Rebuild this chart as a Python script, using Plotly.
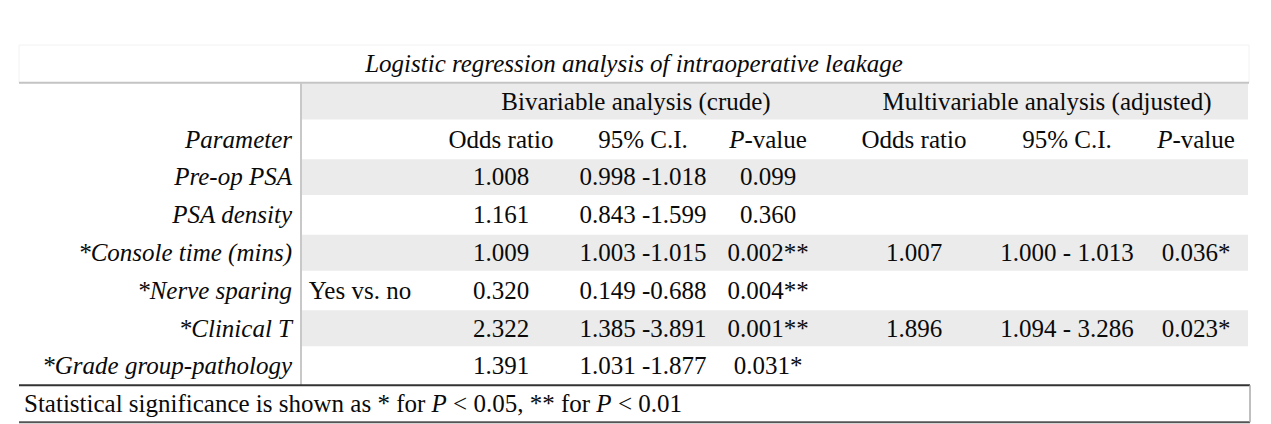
import plotly.graph_objects as go

# ---------------- data ----------------
title_text = "Logistic regression analysis of intraoperative leakage"
group_headers = ["Bivariable analysis (crude)", "Multivariable analysis (adjusted)"]
column_headers = ["<i>Parameter</i>", "", "Odds ratio", "95% C.I.", "<i>P</i>-value",
                  "Odds ratio", "95% C.I.", "<i>P</i>-value"]
params = ["Pre-op PSA", "PSA density", "*Console time (mins)", "*Nerve sparing",
          "*Clinical T", "*Grade group-pathology"]
levels = ["", "", "", "Yes vs. no", "", ""]
biv_or = ["1.008", "1.161", "1.009", "0.320", "2.322", "1.391"]
biv_ci = ["0.998 -1.018", "0.843 -1.599", "1.003 -1.015", "0.149 -0.688",
          "1.385 -3.891", "1.031 -1.877"]
biv_p = ["0.099", "0.360", "0.002**", "0.004**", "0.001**", "0.031*"]
mv_or = ["", "", "1.007", "", "1.896", ""]
mv_ci = ["", "", "1.000 - 1.013", "", "1.094 - 3.286", ""]
mv_p = ["", "", "0.036*", "", "0.023*", ""]
footnote = "Statistical significance is shown as * for <i>P</i> < 0.05, ** for <i>P</i> < 0.01"

# ---------------- layout constants ----------------
FONT = dict(family="'Liberation Serif', 'Times New Roman', Tinos, 'DejaVu Serif', serif",
            size=25, color="#0a0a0a")
X_LEFT, X_RIGHT, X_DIV = 19, 1249, 301
COL_X = [292, 360, 501, 643, 768, 914, 1067, 1196]   # column anchor positions (px)
GROUP_X = [636, 1047]
ROW_TITLE, ROW_GROUP, ROW_HEAD, ROW_DATA0 = 0, 1, 2, 3
n = len(params)
ROW_FOOT = ROW_DATA0 + n
GRAY = "#ebebeb"
DY = 0.55   # vertical anchor of text inside a row

fig = go.Figure()

def add_text(xs, ys, texts, pos="middle center", italic=False):
    t = [f"<i>{s}</i>" if (italic and s) else s for s in texts]
    fig.add_trace(go.Scatter(x=xs, y=ys, text=t, mode="text", textposition=pos,
                             textfont=FONT, hoverinfo="skip", showlegend=False,
                             cliponaxis=False))

add_text([(X_LEFT + X_RIGHT) / 2], [ROW_TITLE + DY], [title_text], italic=True)
add_text(GROUP_X, [ROW_GROUP + DY] * 2, group_headers)
add_text([COL_X[0]], [ROW_HEAD + DY], [column_headers[0]], pos="middle left")
add_text(COL_X[2:], [ROW_HEAD + DY] * 6, column_headers[2:])
rows_y = [ROW_DATA0 + i + DY for i in range(n)]
add_text([COL_X[0]] * n, rows_y, params, pos="middle left", italic=True)
for ci, col in zip(range(1, 8), [levels, biv_or, biv_ci, biv_p, mv_or, mv_ci, mv_p]):
    add_text([COL_X[ci]] * n, rows_y, col)
add_text([24], [ROW_FOOT + DY], [footnote], pos="middle right")

# ---------------- shapes ----------------
shapes = []
shapes.append(dict(type="rect", x0=X_LEFT, x1=X_RIGHT, y0=ROW_TITLE, y1=ROW_GROUP,
                   line=dict(color="#f2f2f2", width=1), fillcolor="rgba(0,0,0,0)", layer="below"))
for r in [ROW_GROUP] + [ROW_DATA0 + i for i in range(0, n, 2)]:
    shapes.append(dict(type="rect", x0=X_DIV + 1, x1=X_RIGHT - 1, y0=r + 0.02, y1=r + 0.97,
                       fillcolor=GRAY, line=dict(width=0), layer="below"))
shapes.append(dict(type="line", x0=X_LEFT, x1=X_RIGHT, y0=ROW_GROUP, y1=ROW_GROUP,
                   line=dict(color="#c4c4c4", width=2)))
shapes.append(dict(type="line", x0=X_DIV, x1=X_DIV, y0=ROW_GROUP, y1=ROW_FOOT,
                   line=dict(color="#c8c8c8", width=2)))
shapes.append(dict(type="line", x0=X_LEFT, x1=X_RIGHT + 1, y0=ROW_FOOT, y1=ROW_FOOT,
                   line=dict(color="#333333", width=2)))
shapes.append(dict(type="line", x0=X_LEFT, x1=X_RIGHT + 1, y0=ROW_FOOT + 0.98, y1=ROW_FOOT + 0.98,
                   line=dict(color="#555555", width=2)))
shapes.append(dict(type="line", x0=X_RIGHT + 1, x1=X_RIGHT + 1, y0=ROW_FOOT, y1=ROW_FOOT + 0.98,
                   line=dict(color="#aaaaaa", width=1.5)))

OFF = 8
W, H = 1271, 424
ROW_PX, TOP_PX = 37.8, 45
y_top = (OFF - TOP_PX) / ROW_PX
y_bot = (H - TOP_PX) / ROW_PX

fig.update_layout(
    width=W - OFF, height=H - OFF, margin=dict(l=0, r=0, t=0, b=0),
    paper_bgcolor="white", plot_bgcolor="white", shapes=shapes,
    font=FONT,
    xaxis=dict(range=[OFF, W], visible=False, fixedrange=True),
    yaxis=dict(range=[y_bot, y_top], visible=False, fixedrange=True),
    showlegend=False,
)
fig.write_html("out.html", config={"displayModeBar": False})
